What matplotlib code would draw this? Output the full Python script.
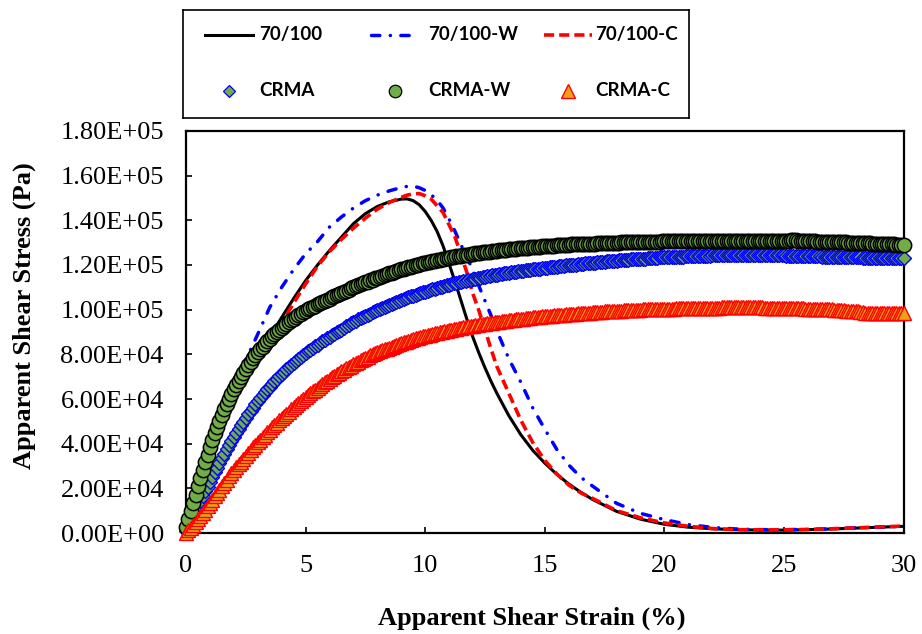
import numpy as np
import matplotlib
matplotlib.use("Agg")
import matplotlib.pyplot as plt
from matplotlib import font_manager

# ---------------------------------------------------------------------------
# Data: apparent shear stress (kPa) against apparent shear strain (%)
# ---------------------------------------------------------------------------
STRAIN_BINDER = [0, 0.5, 1, 1.5, 2, 2.5, 3, 3.5, 4, 4.5, 5, 5.5, 6, 6.5, 7, 7.5, 8, 8.5, 9,
                 9.25, 9.5, 9.75, 10, 10.25, 10.5, 10.75, 11, 11.25, 11.5, 11.75, 12,
                 12.25, 12.5, 12.75, 13,
                 13.5, 14, 14.5, 15, 15.5, 16, 16.5, 17,
                 18, 19, 20, 21, 22, 23, 24, 25, 26, 27, 28, 29, 30]

STRESS_70_100 = [0, 19, 36, 50, 62, 71.5, 80, 88, 96.5, 105, 113, 120, 126.5, 132.5, 138.5,
                 143, 146.2, 148.3, 149.5,
                 149.6, 148.8, 147, 144, 140, 135, 128.5, 120.5, 112.5, 104, 95.5, 87.5,
                 80.5, 74, 68, 62.5,
                 52.5, 44, 37, 31.3, 26.3, 22, 18.3, 15,
                 9.7, 6.2, 3.9, 2.6, 1.9, 1.5, 1.3, 1.3, 1.5, 1.8, 2.2, 2.6, 3.0]

STRESS_70_100_W = [0, 19, 37, 51.5, 66, 77.5, 89, 101, 110, 118, 125, 130.5, 137, 141.5, 145.5,
                   148.8, 151.3, 153.2, 154.7,
                   155.2, 155.3, 154.6, 153.4, 151.5, 149, 145.5, 140.5, 135, 129, 123.5, 117.5,
                   110.5, 104, 97.5, 90.5,
                   78, 67.5, 56, 46.5, 37.5, 30.5, 25, 21,
                   13.3, 8.8, 6, 3.8, 2.5, 1.8, 1.5, 1.5, 1.6, 1.9, 2.3, 2.6, 3.0]

STRESS_70_100_C = [0, 18, 35, 49, 61, 70.5, 78.5, 86, 94, 103, 111.5, 119.5, 126, 131.5, 136.5,
                   141, 145, 148, 150.3,
                   151.3, 151.8, 152, 151, 149.5, 146.5, 143.5, 138, 132.5, 124.5, 116.5, 107,
                   99.5, 91, 82.5, 74.5,
                   62.5, 50.5, 40.5, 32.5, 26.5, 21.5, 18, 15.5,
                   10, 6.8, 4.5, 3, 2, 1.5, 1.4, 1.4, 1.6, 1.9, 2.3, 2.7, 3.1]

STRAIN_CRMA = [
    0.0, 0.1, 0.2, 0.3, 0.4, 0.5, 0.6, 0.7, 0.8, 0.9,
    1.0, 1.1, 1.2, 1.3, 1.4, 1.5, 1.6, 1.7, 1.8, 1.9,
    2.0, 2.1, 2.2, 2.3, 2.4, 2.5, 2.6, 2.7, 2.8, 2.9,
    3.0, 3.1, 3.2, 3.3, 3.4, 3.5, 3.6, 3.7, 3.8, 3.9,
    4.0, 4.1, 4.2, 4.3, 4.4, 4.5, 4.6, 4.7, 4.8, 4.9,
    5.0, 5.1, 5.2, 5.3, 5.4, 5.5, 5.6, 5.7, 5.8, 5.9,
    6.0, 6.1, 6.2, 6.3, 6.4, 6.5, 6.6, 6.7, 6.8, 6.9,
    7.0, 7.1, 7.2, 7.3, 7.4, 7.5, 7.6, 7.7, 7.8, 7.9,
    8.0, 8.1, 8.2, 8.3, 8.4, 8.5, 8.6, 8.7, 8.8, 8.9,
    9.0, 9.1, 9.2, 9.3, 9.4, 9.5, 9.6, 9.7, 9.8, 9.9,
    10.0, 10.1, 10.2, 10.3, 10.4, 10.5, 10.6, 10.7, 10.8, 10.9,
    11.0, 11.1, 11.2, 11.3, 11.4, 11.5, 11.6, 11.7, 11.8, 11.9,
    12.0, 12.1, 12.2, 12.3, 12.4, 12.5, 12.6, 12.7, 12.8, 12.9,
    13.0, 13.1, 13.2, 13.3, 13.4, 13.5, 13.6, 13.7, 13.8, 13.9,
    14.0, 14.1, 14.2, 14.3, 14.4, 14.5, 14.6, 14.7, 14.8, 14.9,
    15.0, 15.1, 15.2, 15.3, 15.4, 15.5, 15.6, 15.7, 15.8, 15.9,
    16.0, 16.1, 16.2, 16.3, 16.4, 16.5, 16.6, 16.7, 16.8, 16.9,
    17.0, 17.1, 17.2, 17.3, 17.4, 17.5, 17.6, 17.7, 17.8, 17.9,
    18.0, 18.1, 18.2, 18.3, 18.4, 18.5, 18.6, 18.7, 18.8, 18.9,
    19.0, 19.1, 19.2, 19.3, 19.4, 19.5, 19.6, 19.7, 19.8, 19.9,
    20.0, 20.1, 20.2, 20.3, 20.4, 20.5, 20.6, 20.7, 20.8, 20.9,
    21.0, 21.1, 21.2, 21.3, 21.4, 21.5, 21.6, 21.7, 21.8, 21.9,
    22.0, 22.1, 22.2, 22.3, 22.4, 22.5, 22.6, 22.7, 22.8, 22.9,
    23.0, 23.1, 23.2, 23.3, 23.4, 23.5, 23.6, 23.7, 23.8, 23.9,
    24.0, 24.1, 24.2, 24.3, 24.4, 24.5, 24.6, 24.7, 24.8, 24.9,
    25.0, 25.1, 25.2, 25.3, 25.4, 25.5, 25.6, 25.7, 25.8, 25.9,
    26.0, 26.1, 26.2, 26.3, 26.4, 26.5, 26.6, 26.7, 26.8, 26.9,
    27.0, 27.1, 27.2, 27.3, 27.4, 27.5, 27.6, 27.7, 27.8, 27.9,
    28.0, 28.1, 28.2, 28.3, 28.4, 28.5, 28.6, 28.7, 28.8, 28.9,
    29.0, 29.1, 29.2, 29.3, 29.4, 29.5, 29.6, 29.7, 29.8, 29.9,
    30.0]

STRESS_CRMA = [
    1.0, 3.2, 5.4, 7.6, 9.8, 12.0, 14.2, 16.4, 18.6, 20.8,
    23.0, 25.1, 27.2, 29.3, 31.4, 33.4, 35.4, 37.4, 39.3, 41.2,
    43.0, 44.8, 46.5, 48.2, 49.9, 51.5, 53.1, 54.6, 56.1, 57.6,
    59.0, 60.4, 61.7, 63.0, 64.3, 65.5, 66.7, 67.9, 69.0, 70.1,
    71.2, 72.3, 73.3, 74.3, 75.3, 76.2, 77.1, 78.0, 78.8, 79.7,
    80.5, 81.3, 82.1, 82.9, 83.6, 84.4, 85.1, 85.8, 86.5, 87.2,
    87.9, 88.6, 89.2, 89.8, 90.5, 91.1, 91.8, 92.5, 93.2, 93.9,
    94.5, 95.1, 95.6, 96.2, 96.7, 97.2, 97.7, 98.2, 98.8, 99.3,
    99.8, 100.3, 100.8, 101.2, 101.7, 102.1, 102.6, 103.0, 103.4, 103.9,
    104.3, 104.7, 105.1, 105.5, 105.9, 106.3, 106.6, 107.0, 107.4, 107.7,
    108.1, 108.4, 108.8, 109.1, 109.4, 109.7, 110.0, 110.3, 110.6, 110.9,
    111.2, 111.5, 111.8, 112.0, 112.3, 112.5, 112.8, 113.0, 113.2, 113.5,
    113.7, 113.9, 114.1, 114.3, 114.5, 114.7, 114.9, 115.1, 115.3, 115.5,
    115.7, 115.9, 116.0, 116.2, 116.4, 116.5, 116.7, 116.8, 117.0, 117.1,
    117.3, 117.4, 117.6, 117.7, 117.9, 118.0, 118.1, 118.3, 118.4, 118.6,
    118.7, 118.8, 118.9, 119.1, 119.2, 119.3, 119.4, 119.5, 119.7, 119.8,
    119.9, 120.0, 120.1, 120.2, 120.4, 120.5, 120.6, 120.7, 120.8, 120.9,
    121.0, 121.1, 121.2, 121.3, 121.4, 121.5, 121.6, 121.7, 121.8, 121.9,
    122.0, 122.1, 122.2, 122.2, 122.3, 122.4, 122.5, 122.5, 122.6, 122.7,
    122.8, 122.9, 122.9, 123.0, 123.1, 123.2, 123.2, 123.3, 123.4, 123.4,
    123.5, 123.5, 123.6, 123.6, 123.7, 123.7, 123.7, 123.8, 123.8, 123.9,
    123.9, 123.9, 124.0, 124.0, 124.1, 124.1, 124.1, 124.2, 124.2, 124.2,
    124.3, 124.3, 124.3, 124.3, 124.4, 124.4, 124.4, 124.4, 124.5, 124.5,
    124.5, 124.5, 124.5, 124.5, 124.5, 124.5, 124.5, 124.5, 124.5, 124.5,
    124.5, 124.5, 124.4, 124.4, 124.4, 124.4, 124.4, 124.3, 124.3, 124.3,
    124.3, 124.2, 124.2, 124.2, 124.2, 124.2, 124.1, 124.1, 124.1, 124.0,
    124.0, 124.0, 123.9, 123.9, 123.9, 123.9, 123.8, 123.8, 123.8, 123.7,
    123.7, 123.7, 123.6, 123.6, 123.6, 123.6, 123.5, 123.5, 123.5, 123.4,
    123.4, 123.4, 123.4, 123.3, 123.3, 123.3, 123.3, 123.3, 123.2, 123.2,
    123.2, 123.2, 123.2, 123.1, 123.1, 123.1, 123.1, 123.1, 123.0, 123.0,
    123.0]

STRESS_CRMA_W = [
    2.5, 6.3, 10.0, 13.5, 17.2, 21.0, 24.6, 28.2, 31.7, 35.1,
    38.5, 41.6, 44.6, 47.5, 50.3, 53.0, 55.5, 57.9, 60.2, 62.4,
    64.5, 66.4, 68.2, 70.0, 71.8, 73.5, 75.1, 76.7, 78.2, 79.6,
    81.0, 82.3, 83.5, 84.7, 85.9, 87.0, 88.0, 89.0, 90.0, 90.9,
    91.8, 92.7, 93.6, 94.4, 95.2, 96.0, 96.7, 97.4, 98.1, 98.8,
    99.5, 100.1, 100.7, 101.3, 101.8, 102.4, 102.9, 103.4, 103.9, 104.5,
    105.0, 105.5, 106.0, 106.5, 107.0, 107.5, 108.0, 108.5, 109.0, 109.5,
    110.0, 110.4, 110.9, 111.3, 111.8, 112.2, 112.6, 113.1, 113.5, 114.0,
    114.4, 114.8, 115.1, 115.5, 115.8, 116.2, 116.6, 116.9, 117.3, 117.6,
    118.0, 118.3, 118.6, 119.0, 119.3, 119.5, 119.8, 120.1, 120.4, 120.7,
    121.0, 121.2, 121.5, 121.7, 122.0, 122.2, 122.4, 122.6, 122.9, 123.1,
    123.3, 123.5, 123.7, 123.9, 124.0, 124.2, 124.4, 124.5, 124.7, 124.8,
    125.0, 125.2, 125.3, 125.5, 125.6, 125.7, 125.9, 126.0, 126.2, 126.3,
    126.4, 126.5, 126.7, 126.8, 126.9, 127.0, 127.1, 127.2, 127.3, 127.4,
    127.5, 127.6, 127.7, 127.8, 127.9, 128.0, 128.1, 128.1, 128.2, 128.3,
    128.4, 128.5, 128.6, 128.6, 128.7, 128.8, 128.8, 128.9, 129.0, 129.0,
    129.1, 129.2, 129.2, 129.3, 129.3, 129.4, 129.4, 129.5, 129.5, 129.6,
    129.6, 129.6, 129.7, 129.7, 129.8, 129.8, 129.8, 129.9, 129.9, 130.0,
    130.0, 130.0, 130.1, 130.1, 130.1, 130.2, 130.2, 130.2, 130.3, 130.3,
    130.3, 130.4, 130.4, 130.4, 130.4, 130.5, 130.5, 130.5, 130.5, 130.6,
    130.6, 130.6, 130.6, 130.7, 130.7, 130.7, 130.7, 130.8, 130.8, 130.8,
    130.8, 130.8, 130.8, 130.9, 130.9, 130.9, 130.9, 130.9, 130.9, 130.9,
    130.9, 130.9, 130.8, 130.8, 130.9, 130.9, 130.9, 130.9, 130.9, 130.9,
    130.9, 130.9, 130.8, 130.8, 130.9, 130.9, 130.9, 130.9, 130.9, 130.8,
    130.8, 130.8, 130.8, 130.9, 130.9, 130.9, 130.9, 130.9, 130.9, 130.9,
    130.9, 130.9, 130.9, 131.0, 131.0, 131.0, 130.9, 130.9, 130.8, 130.8,
    130.7, 130.7, 130.6, 130.6, 130.5, 130.5, 130.5, 130.4, 130.4, 130.3,
    130.3, 130.3, 130.2, 130.2, 130.1, 130.1, 130.1, 130.0, 130.0, 130.0,
    130.0, 129.9, 129.9, 129.8, 129.8, 129.7, 129.7, 129.6, 129.6, 129.5,
    129.5, 129.5, 129.4, 129.4, 129.3, 129.2, 129.2, 129.1, 129.0, 128.9,
    128.8]

STRESS_CRMA_C = [
    0.0, 1.2, 2.4, 3.7, 5.0, 6.3, 7.7, 9.1, 10.5, 11.9,
    13.4, 14.9, 16.4, 17.9, 19.4, 20.9, 22.4, 23.9, 25.3, 26.7,
    28.1, 29.4, 30.7, 32.0, 33.3, 34.6, 35.9, 37.1, 38.3, 39.5,
    40.7, 41.8, 42.9, 44.0, 45.1, 46.2, 47.3, 48.4, 49.4, 50.4,
    51.4, 52.4, 53.4, 54.4, 55.5, 56.5, 57.4, 58.3, 59.2, 60.1,
    61.0, 61.8, 62.6, 63.4, 64.2, 65.0, 65.8, 66.6, 67.4, 68.2,
    69.0, 69.7, 70.4, 71.1, 71.8, 72.5, 73.1, 73.7, 74.3, 74.9,
    75.5, 76.1, 76.7, 77.3, 77.9, 78.5, 79.0, 79.5, 80.0, 80.5,
    81.0, 81.4, 81.8, 82.2, 82.6, 83.0, 83.4, 83.8, 84.2, 84.6,
    85.0, 85.4, 85.7, 86.1, 86.4, 86.8, 87.1, 87.4, 87.7, 88.0,
    88.3, 88.6, 88.8, 89.1, 89.4, 89.6, 89.8, 90.1, 90.3, 90.6,
    90.8, 91.0, 91.3, 91.5, 91.7, 91.9, 92.1, 92.3, 92.5, 92.7,
    92.9, 93.1, 93.2, 93.4, 93.5, 93.7, 93.9, 94.0, 94.2, 94.3,
    94.5, 94.7, 94.8, 95.0, 95.1, 95.2, 95.4, 95.5, 95.7, 95.8,
    95.9, 96.0, 96.2, 96.3, 96.4, 96.5, 96.6, 96.8, 96.9, 97.0,
    97.0, 97.1, 97.2, 97.3, 97.4, 97.5, 97.6, 97.7, 97.8, 97.9,
    98.0, 98.1, 98.2, 98.2, 98.3, 98.4, 98.5, 98.6, 98.6, 98.7,
    98.8, 98.9, 99.0, 99.0, 99.1, 99.2, 99.2, 99.3, 99.4, 99.4,
    99.5, 99.6, 99.6, 99.7, 99.7, 99.8, 99.8, 99.9, 99.9, 100.0,
    100.0, 100.1, 100.1, 100.2, 100.2, 100.2, 100.3, 100.3, 100.3, 100.4,
    100.4, 100.4, 100.5, 100.5, 100.5, 100.6, 100.6, 100.6, 100.6, 100.7,
    100.7, 100.7, 100.8, 100.8, 100.8, 100.8, 100.8, 100.9, 100.9, 100.9,
    100.9, 100.9, 100.9, 100.9, 101.0, 101.0, 101.0, 101.0, 101.0, 101.0,
    101.0, 101.0, 101.0, 101.0, 101.0, 101.0, 101.0, 101.0, 101.0, 101.0,
    101.0, 101.0, 100.9, 100.9, 100.9, 100.9, 100.9, 100.9, 100.8, 100.8,
    100.8, 100.8, 100.8, 100.7, 100.7, 100.7, 100.6, 100.6, 100.6, 100.5,
    100.5, 100.5, 100.4, 100.4, 100.3, 100.3, 100.3, 100.2, 100.2, 100.1,
    100.1, 100.0, 99.9, 99.9, 99.8, 99.7, 99.6, 99.5, 99.5, 99.4,
    99.3, 99.2, 99.0, 98.8, 98.6, 98.5, 98.5, 98.4, 98.4, 98.3,
    98.3, 98.3, 98.3, 98.4, 98.4, 98.4, 98.4, 98.4, 98.3, 98.3,
    98.3]

X_TICKS = [0, 5, 10, 15, 20, 25, 30]
Y_TICKS = [0, 20000, 40000, 60000, 80000, 100000, 120000, 140000, 160000, 180000]
LABELS = ["70/100", "70/100-W", "70/100-C", "CRMA", "CRMA-W", "CRMA-C"]


def pa(values):
    """kPa -> Pa"""
    return np.asarray(values, dtype=float) * 1e3


def font_available(name):
    try:
        font_manager.findfont(font_manager.FontProperties(family=name),
                              fallback_to_default=False)
        return True
    except ValueError:
        return False


plt.rcParams["font.family"] = ["Liberation Serif", "DejaVu Serif"]

W, H = 922, 634
fig = plt.figure(figsize=(W / 100, H / 100), dpi=100)

# plotting area (pixel box 186..903.5 x 131..533)
ax = fig.add_axes([186 / W, 1 - 533 / H, (903.5 - 186) / W, (533 - 131) / H])

BLACK = "#000000"
BLUE = "#0000FF"
RED = "#FF0000"
GREEN = "#70AD47"
GOLD = "#E8A317"

line_styles = {
    "70/100": dict(color=BLACK, lw=2.2, ls="-"),
    "70/100-W": dict(color=BLUE, lw=2.5, ls=(0, (2.4, 3.0, 0.05, 3.0)),
                     dash_capstyle="round"),
    "70/100-C": dict(color=RED, lw=2.6, ls=(0, (2.8, 1.4))),
}
marker_styles = {
    "CRMA": dict(marker="D", ms=7.0, mfc=GREEN, mec=BLUE, mew=1.0),
    "CRMA-W": dict(marker="o", ms=10.3, mfc=GREEN, mec=BLACK, mew=1.1),
    "CRMA-C": dict(marker="^", ms=10.3, mfc=GOLD, mec=RED, mew=1.0),
}

ax.plot(STRAIN_BINDER, pa(STRESS_70_100), zorder=2, **line_styles["70/100"])
ax.plot(STRAIN_BINDER, pa(STRESS_70_100_W), zorder=2, **line_styles["70/100-W"])
ax.plot(STRAIN_BINDER, pa(STRESS_70_100_C), zorder=2, **line_styles["70/100-C"])
ax.plot(STRAIN_CRMA, pa(STRESS_CRMA), ls="none", zorder=3, clip_on=False,
        **marker_styles["CRMA"])
ax.plot(STRAIN_CRMA, pa(STRESS_CRMA_W), ls="none", zorder=4, clip_on=False,
        **marker_styles["CRMA-W"])
ax.plot(STRAIN_CRMA, pa(STRESS_CRMA_C), ls="none", zorder=5, clip_on=False,
        **marker_styles["CRMA-C"])

ax.set_xlim(0, 30)
ax.set_ylim(0, 180000)
ax.set_xticks(X_TICKS)
ax.set_xticklabels([str(t) for t in X_TICKS])
ax.set_yticks(Y_TICKS)
ax.set_yticklabels([f"{v:.2E}" for v in Y_TICKS])
ax.tick_params(direction="in", length=4.5, width=1.2, pad=16, labelsize=19,
               top=False, right=False, colors="black")
for sp in ax.spines.values():
    sp.set_linewidth(1.6)
    sp.set_color("black")

ax.set_xlabel("Apparent Shear Strain (%)", fontsize=19, fontweight="bold")
ax.xaxis.label.set_va("baseline")
ax.xaxis.set_label_coords((532 - 186) / (903.5 - 186), (533 - 625) / (533 - 131))
ax.set_ylabel("Apparent Shear Stress (Pa)", fontsize=19, fontweight="bold")
ax.yaxis.label.set_va("baseline")
ax.yaxis.set_label_coords((31 - 186) / (903.5 - 186), (533 - 316) / (533 - 131))

# legend box above the plot, laid out in pixel units
lax = fig.add_axes([183 / W, 1 - 118 / H, (689 - 183) / W, (118 - 10) / H])
lax.set_xlim(183, 689)
lax.set_ylim(118, 10)
lax.set_xticks([])
lax.set_yticks([])
for sp in lax.spines.values():
    sp.set_linewidth(1.2)
    sp.set_color("black")

if font_available("Liberation Sans Narrow"):
    legend_font = dict(family=["Liberation Sans Narrow"], fontweight="bold", fontsize=14)
else:
    legend_font = dict(family=["Lato", "DejaVu Sans"], fontweight="bold", fontsize=13.5)

legend_markers = {
    "CRMA": dict(marker="D", ms=6.5, mfc=GREEN, mec=BLUE, mew=0.9),
    "CRMA-W": dict(marker="o", ms=9.0, mfc=GREEN, mec=BLACK, mew=0.9),
    "CRMA-C": dict(marker="^", ms=9.5, mfc=GOLD, mec=RED, mew=1.0),
}

col_centers = [229, 395, 568]
text_x = [259, 428, 595]
row_y = [35, 91]
for i, name in enumerate(LABELS[:3]):
    cx = col_centers[i]
    lax.plot([cx - 24, cx + 24], [row_y[0], row_y[0]], **line_styles[name])
    lax.text(text_x[i], row_y[0], name, va="center", ha="left", **legend_font)
for i, name in enumerate(LABELS[3:]):
    cx = col_centers[i]
    lax.plot([cx], [row_y[1]], ls="none", **legend_markers[name])
    lax.text(text_x[i], row_y[1], name, va="center", ha="left", **legend_font)

fig.savefig("out.png", dpi=100)
